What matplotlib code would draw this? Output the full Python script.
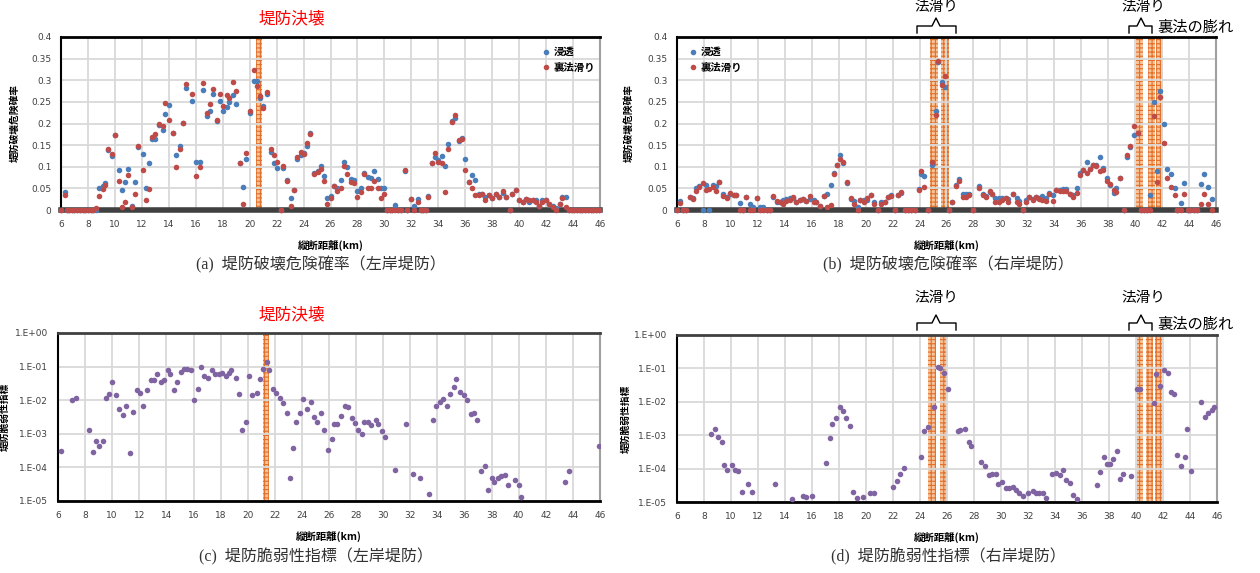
import numpy as np
import matplotlib
matplotlib.use('Agg')
import matplotlib.pyplot as plt
from matplotlib.lines import Line2D

plt.rcParams['font.family'] = ['DejaVu Sans', 'Noto Sans CJK JP']
plt.rcParams['hatch.linewidth'] = 0.8

JP = ['Noto Sans CJK JP', 'DejaVu Sans']
CAP = ['Liberation Serif', 'Noto Sans CJK JP']

# ---- (a) left bank: failure probability ----
x_a = [6.0, 6.3, 6.45, 6.6, 6.8, 7.0, 7.2, 7.4, 7.6, 7.8, 8.0, 8.2, 8.4, 8.6, 8.8, 9.1, 9.3, 9.5, 9.75,
       10.0, 10.3, 10.55, 10.75, 11.0, 11.3, 11.5, 11.75, 12.05, 12.3, 12.5, 12.75, 13.0, 13.3, 13.55, 13.75,
       14.05, 14.3, 14.5, 14.8, 15.05, 15.3, 15.75, 16.05, 16.3, 16.55, 16.8, 17.05, 17.3, 17.55, 17.8,
       18.0, 18.3, 18.5, 18.75, 19.0, 19.25, 19.5, 19.75, 20.05, 20.3, 20.55, 20.8, 21.0, 21.3, 21.55, 21.8,
       22.05, 22.3, 22.5, 22.75, 23.05, 23.3, 23.55, 23.8, 24.0, 24.25, 24.5, 24.8, 25.05, 25.3, 25.5, 25.75,
       26.0, 26.25, 26.5, 26.8, 27.0, 27.25, 27.5, 27.75, 28.0, 28.25, 28.5, 28.75, 29.0, 29.25, 29.5, 29.75,
       30.0, 30.2, 30.4, 30.6, 30.8, 31.0, 31.2, 31.5, 31.7, 32.0, 32.2, 32.5, 32.7, 32.9, 33.1, 33.25, 33.5,
       33.75, 34.0, 34.25, 34.5, 34.75, 35.0, 35.25, 35.5, 35.75, 36.0, 36.25, 36.5, 36.75, 37.0, 37.25, 37.5,
       37.75, 38.0, 38.25, 38.5, 38.8, 39.0, 39.3, 39.5, 39.75, 40.0, 40.25, 40.5, 40.75, 41.0, 41.25, 41.5,
       41.7, 42.0, 42.2, 42.5, 42.7, 43.0, 43.2, 43.5, 43.7, 43.9, 44.1, 44.3, 44.5, 44.7, 44.9, 45.1, 45.3,
       45.5, 45.7, 45.9]
seep_a = [0, 0.042, 0, 0, 0, 0, 0, 0, 0, 0, 0, 0, 0, 0, 0.05, 0.056, 0.062, 0.138, 0.125,
          0.173, 0.092, 0.046, 0.065, 0.095, 0.01, 0.065, 0.146, 0.129, 0.05, 0.108, 0.165, 0.165, 0.196, 0.186, 0.222,
          0.242, 0.177, 0.127, 0.148, 0.202, 0.283, 0.252, 0.112, 0.112, 0.278, 0.217, 0.228, 0.268, 0.206, 0.252,
          0.228, 0.238, 0.249, 0.265, 0.244, 0.109, 0.054, 0.117, 0.225, 0.298, 0.298, 0.258, 0.24, 0.269, 0.135, 0.108,
          0.096, 0, 0.098, 0.069, 0.028, 0.046, 0.119, 0.128, 0.131, 0.148, 0.177, 0.085, 0.091, 0.102, 0.079, 0.027,
          0.033, 0.056, 0.05, 0.069, 0.112, 0.1, 0.072, 0.069, 0.045, 0.052, 0.085, 0.077, 0.073, 0.091, 0.072, 0.052,
          0.052, 0, 0, 0, 0.012, 0, 0, 0.09, 0, 0.025, 0.01, 0.025, 0, 0, 0, 0.032, 0.108,
          0.123, 0.115, 0.125, 0.102, 0.152, 0.205, 0.212, 0.16, 0.167, 0.117, 0.065, 0.081, 0.069, 0.038, 0.038, 0.029,
          0.035, 0.027, 0.038, 0.031, 0.04, 0.031, 0, 0.038, 0.046, 0.022, 0.019, 0.025, 0.018, 0.023, 0.022, 0.009,
          0.023, 0.023, 0.014, 0.01, 0.004, 0.014, 0.031, 0.029, 0, 0, 0, 0, 0, 0, 0, 0, 0,
          0, 0, 0]
slide_a = [0, 0.035, 0, 0, 0, 0, 0, 0, 0, 0, 0, 0, 0, 0.004, 0.032, 0.048, 0.057, 0.14, 0.13,
           0.173, 0.067, 0.008, 0.018, 0.081, 0.006, 0.038, 0.148, 0.092, 0.023, 0.048, 0.169, 0.175, 0.198, 0.194, 0.248,
           0.209, 0.177, 0.1, 0.141, 0.202, 0.292, 0.269, 0.078, 0.1, 0.294, 0.225, 0.246, 0.279, 0.209, 0.268,
           0.241, 0.267, 0.26, 0.297, 0.275, 0.109, 0.015, 0.131, 0.228, 0.323, 0.287, 0.264, 0.236, 0.273, 0.14, 0.127,
           0.11, 0, 0.102, 0.067, 0.01, 0.046, 0.123, 0.135, 0.129, 0.154, 0.175, 0.083, 0.088, 0.094, 0.067, 0.014,
           0.028, 0.055, 0.045, 0.05, 0.102, 0.083, 0.064, 0.063, 0.029, 0.042, 0.083, 0.05, 0.052, 0.067, 0.052, 0.027,
           0.037, 0, 0, 0, 0, 0, 0, 0.092, 0, 0.025, 0, 0.019, 0, 0, 0, 0.029, 0.108,
           0.131, 0.112, 0.109, 0.041, 0.142, 0.203, 0.219, 0.162, 0.165, 0.092, 0.065, 0.052, 0.035, 0.035, 0.037, 0.023,
           0.035, 0.027, 0.037, 0.031, 0.044, 0.031, 0, 0.038, 0.046, 0.022, 0.019, 0.025, 0.023, 0.023, 0.019, 0.009,
           0.019, 0.023, 0.014, 0.008, 0, 0.014, 0.027, 0.006, 0, 0, 0, 0, 0, 0, 0, 0, 0,
           0, 0, 0]

# ---- (b) right bank: failure probability ----
x_b = [6.0, 6.2, 6.45, 6.7, 6.95, 7.2, 7.4, 7.65, 7.9, 8.15, 8.4, 8.65, 8.9, 9.15, 9.45, 9.7, 9.95, 10.2, 10.4,
       10.65, 10.9, 11.15, 11.4, 11.65, 11.9, 12.15, 12.4, 12.65, 12.9, 13.15, 13.4, 13.65, 13.9, 14.1, 14.4, 14.6,
       14.85, 15.1, 15.35, 15.6, 15.9, 16.15, 16.35, 16.6, 16.9, 17.15, 17.4, 17.65, 17.9, 18.1, 18.35, 18.65, 18.9,
       19.15, 19.4, 19.6, 19.9, 20.1, 20.4, 20.65, 20.9, 21.15, 21.4, 21.65, 21.9, 22.15, 22.4, 22.65, 22.9, 23.15,
       23.4, 23.65, 23.95, 24.1, 24.35, 24.6, 24.9, 25.2, 25.4, 25.65, 25.9, 26.15, 26.4, 26.7, 26.9, 27.2, 27.45,
       27.7, 27.95, 28.4, 28.7, 28.9, 29.2, 29.4, 29.6, 29.9, 30.1, 30.4, 30.6, 30.9, 31.2, 31.4, 31.65, 31.9,
       32.15, 32.4, 32.65, 32.9, 33.1, 33.4, 33.6, 33.9, 34.1, 34.4, 34.65, 34.9, 35.15, 35.4, 35.65, 35.9, 36.15,
       36.4, 36.65, 36.9, 37.1, 37.4, 37.65, 37.9, 38.15, 38.4, 38.6, 38.9, 39.2, 39.4, 39.6, 39.9, 40.2, 40.45,
       40.65, 40.85, 41.1, 41.4, 41.65, 41.85, 42.15, 42.4, 42.65, 42.95, 43.1, 43.4, 43.6, 43.9, 44.1, 44.35,
       44.6, 44.9, 45.1, 45.4, 45.7]
seep_b = [0, 0.021, 0, 0, 0.031, 0.027, 0.052, 0.056, 0, 0.058, 0, 0.058, 0.056, 0.065, 0.038, 0.031, 0.038, 0.035, 0.035,
          0.017, 0, 0.031, 0.014, 0.008, 0.028, 0.008, 0.006, 0, 0, 0.031, 0.018, 0.018, 0.023, 0.025, 0.028, 0.028,
          0.019, 0.023, 0.025, 0.021, 0.025, 0.023, 0.019, 0.01, 0.032, 0.036, 0.058, 0.085, 0.105, 0.127, 0.108, 0.062, 0.025,
          0.021, 0.008, 0.023, 0.023, 0.022, 0.035, 0.019, 0, 0.018, 0.019, 0.029, 0.035, 0, 0.035, 0.04, 0, 0,
          0, 0, 0.048, 0.083, 0.078, 0, 0.105, 0.228, 0.342, 0.296, 0.285, 0, 0.019, 0.058, 0.072, 0.037, 0.038,
          0.038, 0, 0.055, 0.036, 0.033, 0.042, 0.036, 0.028, 0.028, 0.028, 0.028, 0.025, 0.038, 0.028, 0.021, 0, 0.023,
          0.031, 0.025, 0.031, 0.027, 0.032, 0.028, 0.04, 0.035, 0.046, 0.046, 0.048, 0.048, 0.037, 0.035, 0.052, 0.085, 0.092,
          0.112, 0.094, 0.105, 0.104, 0.122, 0.098, 0.075, 0.058, 0.04, 0.052, 0.075, 0, 0.122, 0.145, 0.173, 0.179, 0,
          0, 0, 0.035, 0.25, 0.091, 0.275, 0.2, 0.095, 0.083, 0.052, 0, 0.017, 0.063, 0, 0, 0,
          0, 0.059, 0.083, 0.054, 0.025]
slide_b = [0, 0.017, 0, 0, 0.031, 0.025, 0.044, 0.054, 0.062, 0.046, 0.048, 0.054, 0.044, 0.065, 0.032, 0.027, 0.04, 0.035, 0.035,
           0, 0, 0.031, 0, 0, 0.028, 0, 0, 0, 0, 0.032, 0.021, 0.018, 0.015, 0.021, 0.023, 0.029,
           0.019, 0.023, 0.025, 0.021, 0.032, 0.019, 0.019, 0.01, 0.032, 0.006, 0.012, 0.083, 0.105, 0.117, 0.112, 0.065, 0.027,
           0.015, 0, 0.023, 0.019, 0.027, 0.035, 0.015, 0, 0.014, 0.019, 0.029, 0.032, 0, 0.035, 0.042, 0, 0,
           0, 0, 0.046, 0.09, 0.054, 0, 0.112, 0.219, 0.344, 0.288, 0.309, 0, 0.019, 0.056, 0.066, 0.031, 0.031,
           0.035, 0, 0.05, 0.034, 0.029, 0.044, 0.038, 0.018, 0.019, 0.023, 0.027, 0.019, 0.037, 0.019, 0.015, 0, 0.019,
           0.031, 0.023, 0.031, 0.025, 0.023, 0.021, 0.038, 0.021, 0.046, 0.044, 0.045, 0.044, 0.037, 0.031, 0.04, 0.081, 0.092,
           0.085, 0.094, 0.105, 0.102, 0.091, 0.092, 0.067, 0.059, 0.046, 0.042, 0.073, 0, 0.127, 0.148, 0.194, 0.178, 0,
           0, 0, 0, 0.217, 0.065, 0.262, 0.154, 0.075, 0.054, 0.035, 0, 0, 0.036, 0, 0, 0,
           0, 0.015, 0.038, 0.013, 0]

# ---- (c) left bank: vulnerability index ----
x_c = [6.25, 7.0, 7.3, 8.3, 8.55, 8.8, 9.05, 9.35, 9.55, 9.8, 10.0, 10.3, 10.5, 10.8, 11.05, 11.3, 11.55, 11.8,
       12.05, 12.3, 12.6, 12.85, 13.1, 13.3, 13.6, 13.8, 14.1, 14.3, 14.55, 14.8, 15.05, 15.3, 15.55, 15.8, 16.05,
       16.3, 16.55, 16.8, 17.1, 17.35, 17.6, 17.85, 18.1, 18.4, 18.6, 18.8, 19.1, 19.35, 19.6, 19.85, 20.1, 20.35,
       20.65, 20.9, 21.15, 21.4, 21.6, 21.9, 22.1, 22.4, 22.6, 22.9, 23.1, 23.35, 23.6, 23.85, 24.1, 24.4, 24.65,
       24.9, 25.1, 25.4, 25.65, 25.9, 26.2, 26.4, 26.6, 26.9, 27.2, 27.4, 27.7, 27.9, 28.15, 28.4, 28.6, 28.9,
       29.1, 29.45, 29.65, 29.9, 30.15, 30.9, 31.7, 32.2, 32.7, 33.4, 33.7, 33.9, 34.2, 34.45, 34.7, 34.9, 35.2,
       35.4, 35.7, 35.95, 36.2, 36.5, 36.7, 36.95, 37.2, 37.5, 37.7, 38.0, 38.2, 38.5, 38.7, 39.0, 39.2, 39.75,
       40.0, 40.2, 43.45, 43.7, 45.95]
vul_c = [3.1e-4, 1.0e-2, 1.2e-2, 1.3e-3, 2.8e-4, 6.2e-4, 4.4e-4, 6.2e-4, 1.15e-2, 1.55e-2, 3.6e-2, 1.4e-2, 5.4e-3, 3.6e-3,
         6.5e-3, 2.6e-4, 4.4e-3, 1.95e-2, 1.6e-2, 6.5e-3, 1.95e-2, 3.9e-2, 3.9e-2, 6.0e-2, 3.4e-2, 3.9e-2, 8.1e-2, 6.0e-2,
         1.95e-2, 3.6e-2, 6.8e-2, 8.5e-2, 8.7e-2, 7.8e-2, 1.0e-2, 2.1e-2, 9.8e-2, 5.1e-2, 4.6e-2, 8.1e-2, 6.0e-2, 6.2e-2,
         6.5e-2, 5.1e-2, 6.5e-2, 7.8e-2, 4.6e-2, 1.5e-2, 1.3e-3, 2.3e-3, 5.1e-2, 1.4e-2, 1.6e-2, 4.4e-2, 8.5e-2, 1.35e-1,
         7.8e-2, 2.1e-2, 1.6e-2, 1.2e-2, 8.1e-3, 4.1e-3, 4.8e-5, 3.7e-4, 2.2e-3, 4.1e-3, 1.07e-2, 5.5e-3, 9.1e-3, 3.2e-3,
         2.3e-3, 4.1e-3, 1.3e-3, 3.3e-4, 6.9e-4, 2.0e-3, 1.9e-3, 3.5e-3, 6.8e-3, 6.2e-3, 3.0e-3, 2.1e-3, 1.3e-3, 9.8e-4,
         2.2e-3, 2.2e-3, 1.8e-3, 2.6e-3, 1.9e-3, 1.2e-3, 7.9e-4, 8.3e-5, 2.0e-3, 6.5e-5, 5.0e-5, 1.6e-5, 2.5e-3, 6.8e-3,
         8.7e-3, 1.1e-2, 6.5e-3, 1.55e-2, 2.4e-2, 4.3e-2, 1.7e-2, 1.45e-2, 9.8e-3, 3.9e-3, 4.1e-3, 2.5e-3, 7.8e-5, 1.1e-4,
         2.1e-5, 4.8e-5, 3.8e-5, 4.8e-5, 5.4e-5, 5.8e-5, 2.9e-5, 4.3e-5, 3.0e-5, 1.35e-5, 3.6e-5, 7.8e-5, 4.4e-4]

# ---- (d) right bank: vulnerability index ----
x_d = [8.5, 8.8, 9.0, 9.3, 9.5, 9.7, 10.05, 10.3, 10.55, 10.8, 11.25, 11.55, 13.25, 14.5, 15.3, 15.55, 16.0, 17.05,
       17.3, 17.5, 17.8, 18.1, 18.3, 18.55, 18.8, 19.05, 19.3, 19.8, 20.3, 20.6, 22.0, 22.3, 22.55, 22.8, 24.05,
       24.3, 24.6, 25.05, 25.3, 25.5, 25.8, 26.05, 26.8, 27.0, 27.3, 27.6, 27.8, 28.55, 28.8, 29.1, 29.35, 29.6,
       29.8, 30.05, 30.37, 30.6, 30.86, 31.1, 31.35, 31.6, 31.98, 32.35, 32.6, 32.85, 33.1, 33.3, 33.8, 34.05, 34.4,
       34.6, 34.8, 35.1, 35.3, 35.6, 37.1, 37.35, 37.6, 37.85, 38.1, 38.3, 38.6, 38.8, 39.05, 39.6, 40.05, 40.3,
       41.3, 41.5, 41.8, 42.1, 42.35, 42.6, 42.85, 43.05, 43.3, 43.6, 43.8, 44.1, 44.8, 45.1, 45.3, 45.6, 45.8]
vul_d = [1.07e-3, 1.5e-3, 8.9e-4, 6.3e-4, 1.26e-4, 8.9e-5, 1.26e-4, 8.9e-5, 8.3e-5, 2.0e-5, 3.5e-5, 2.0e-5, 3.5e-5, 1.26e-5,
         1.5e-5, 1.4e-5, 1.5e-5, 1.5e-4, 8.5e-4, 2.1e-3, 3.3e-3, 7.1e-3, 5.2e-3, 3.3e-3, 1.9e-3, 2.0e-5, 1.3e-5, 1.4e-5,
         1.9e-5, 1.9e-5, 2.8e-5, 4.2e-5, 7.1e-5, 1.07e-4, 2.3e-4, 1.3e-3, 1.8e-3, 6.8e-3, 1.1e-1, 1.0e-1, 7.4e-2, 2.5e-2,
         1.3e-3, 1.45e-3, 1.55e-3, 6.2e-4, 4.9e-4, 1.55e-4, 1.2e-4, 6.5e-5, 6.8e-5, 6.8e-5, 3.4e-5, 4.0e-5, 2.7e-5, 2.7e-5,
         2.8e-5, 2.3e-5, 1.9e-5, 1.5e-5, 1.8e-5, 2.2e-5, 1.8e-5, 1.8e-5, 1.9e-5, 1.35e-5, 6.8e-5, 7.2e-5, 6.3e-5, 9.1e-5,
         4.5e-5, 3.8e-5, 1.6e-5, 1.26e-5, 3.3e-5, 7.8e-5, 2.3e-4, 1.35e-4, 1.35e-4, 1.95e-4, 3.4e-4, 4.8e-5, 6.8e-5, 6.0e-5,
         2.5e-2, 2.5e-2, 8.9e-3, 6.6e-2, 3.0e-2, 8.9e-2, 7.4e-2, 1.9e-2, 1.75e-2, 2.5e-4, 1.2e-4, 2.3e-4, 1.5e-3, 8.7e-5,
         9.8e-3, 3.5e-3, 4.7e-3, 5.6e-3, 6.9e-3]

# hatched bands (km)
bands_a = [(20.5, 20.95)]
bands_b = [(24.75, 25.35), (25.6, 26.15), (40.05, 40.6), (40.95, 41.45), (41.55, 42.05)]
bands_c = [(21.1, 21.55)]
bands_d = [(24.6, 25.2), (25.45, 26.0), (40.05, 40.5), (40.75, 41.25), (41.4, 41.9)]

xticks = np.arange(6, 47, 2)
prob_ticks = [0, 0.05, 0.1, 0.15, 0.2, 0.25, 0.3, 0.35, 0.4]
prob_labels = ['0', '0.05', '0.1', '0.15', '0.2', '0.25', '0.3', '0.35', '0.4']
log_ticks = [1e-5, 1e-4, 1e-3, 1e-2, 1e-1, 1]
log_labels = ['1.E-05', '1.E-04', '1.E-03', '1.E-02', '1.E-01', '1.E+00']

W, H = 1260, 573
fig = plt.figure(figsize=(W / 100, H / 100), dpi=100)


def rect(l, t, r, b):
    return [l / W, 1 - b / H, (r - l) / W, (b - t) / H]


def px(x, y):
    return x / W, 1 - y / H


def base_axes(r, bands, ylab, ylab_off, log=False):
    ax = fig.add_axes(rect(*r))
    for b0, b1 in bands:
        ax.axvspan(b0, b1, facecolor='#f6c39a', edgecolor='#e2702a', hatch='++++', lw=0, zorder=0.2)
    ax.set_xlim(6, 46)
    ax.set_xticks(xticks)
    ax.set_xticklabels([str(v) for v in xticks], fontsize=6.5, color='#404040')
    ax.grid(True, color='#d9d9d9', lw=1.3)
    ax.set_axisbelow(True)
    ax.tick_params(length=0, pad=7)
    ax.spines['top'].set_color('black')
    ax.spines['top'].set_linewidth(2)
    ax.spines['left'].set_color('black')
    ax.spines['left'].set_linewidth(1.5)
    ax.spines['right'].set_color('#a0a0a0')
    ax.spines['right'].set_linewidth(1.5)
    ax.set_xlabel('縦断距離(km)', fontsize=7.5, fontweight='bold', family=JP)
    w = r[2] - r[0]
    h = r[3] - r[1]
    ax.xaxis.set_label_coords(0.5, -30 / h)
    ax.set_ylabel(ylab, fontsize=7, fontweight='bold', family=JP)
    ax.yaxis.set_label_coords(-ylab_off / w, 0.5)
    if log:
        ax.set_yscale('log')
        ax.set_ylim(1e-5, 1)
        ax.set_yticks(log_ticks)
        ax.set_yticklabels(log_labels, fontsize=6.5, color='#404040')
        ax.yaxis.set_minor_locator(matplotlib.ticker.NullLocator())
        ax.spines['bottom'].set_color('black')
        ax.spines['bottom'].set_linewidth(2)
        ax.spines['top'].set_color('#404040')
    else:
        ax.set_ylim(0, 0.4)
        ax.set_yticks(prob_ticks)
        ax.set_yticklabels(prob_labels, fontsize=6.5, color='#404040')
        ax.spines['bottom'].set_color('#404040')
        ax.spines['bottom'].set_linewidth(4)
    return ax


# (a)
ax_a = base_axes((61, 37, 600, 210), bands_a, '堤防破壊危険確率', 41)
ax_a.plot(x_a, seep_a, 'o', color='#4a7ebb', ms=4.0, mec='none', label='浸透', clip_on=False, zorder=3)
ax_a.plot(x_a, slide_a, 'o', color='#be4b48', ms=4.0, mec='none', label='裏法滑り', clip_on=False, zorder=4)
ax_a.legend(loc='upper left', bbox_to_anchor=(0.885, 0.97), frameon=False, handlelength=0.6, handletextpad=0.4,
            prop={'family': JP, 'weight': 'bold', 'size': 7.5}, labelspacing=0.5, borderpad=0)

# (b)
ax_b = base_axes((677, 37, 1216, 210), bands_b, '堤防破壊危険確率', 43)
ax_b.plot(x_b, seep_b, 'o', color='#4a7ebb', ms=4.0, mec='none', label='浸透', clip_on=False, zorder=3)
ax_b.plot(x_b, slide_b, 'o', color='#be4b48', ms=4.0, mec='none', label='裏法滑り', clip_on=False, zorder=4)
ax_b.legend(loc='upper left', bbox_to_anchor=(0.015, 0.97), frameon=False, handlelength=0.6, handletextpad=0.4,
            prop={'family': JP, 'weight': 'bold', 'size': 7.5}, labelspacing=0.5, borderpad=0)

# (c)
ax_c = base_axes((58, 333, 600, 501), bands_c, '堤防脆弱性指標', 48, log=True)
ax_c.plot(x_c, vul_c, 'o', color='#8064a2', ms=4.0, mec='none', zorder=3)

# (d)
ax_d = base_axes((677, 335, 1217, 502), bands_d, '堤防脆弱性指標', 46, log=True)
ax_d.plot(x_d, vul_d, 'o', color='#8064a2', ms=4.0, mec='none', zorder=3)


def brace(x0, x1, xc, y):
    pts = [(x0, y + 7), (x0, y), (xc - 4, y), (xc, y - 8), (xc + 4, y), (x1, y), (x1, y + 7)]
    xs = [px(p[0], p[1])[0] for p in pts]
    ys = [px(p[0], p[1])[1] for p in pts]
    fig.add_artist(Line2D(xs, ys, color='black', lw=1.0, transform=fig.transFigure))


# red labels
for y in (19, 315):
    fig.text(*px(292, y), '堤防決壊', color='#ff0000', fontsize=12, family=JP, ha='center', va='center')

# annotations on the right bank panels
for dy, ty in ((0, 7), (297, 298)):
    fig.text(*px(936, ty), '法滑り', fontsize=10.5, family=JP, ha='center', va='center')
    fig.text(*px(1143, ty), '法滑り', fontsize=10.5, family=JP, ha='center', va='center')
    brace(917, 956, 936, 26 + dy)
    brace(1129, 1152, 1141, 26 + dy)
    fig.text(*px(1157, 27 + dy), '裏法の膨れ', fontsize=11, family=JP, ha='left', va='center')

# captions
fig.text(*px(321, 265), '(a)  堤防破壊危険確率（左岸堤防）', fontsize=11.5, family=CAP, color='#333333',
         ha='center', va='center')
fig.text(*px(948, 265), '(b)  堤防破壊危険確率（右岸堤防）', fontsize=11.5, family=CAP, color='#333333',
         ha='center', va='center')
fig.text(*px(316, 557), '(c)  堤防脆弱性指標（左岸堤防）', fontsize=11.5, family=CAP, color='#333333',
         ha='center', va='center')
fig.text(*px(948, 557), '(d)  堤防脆弱性指標（右岸堤防）', fontsize=11.5, family=CAP, color='#333333',
         ha='center', va='center')

fig.savefig('out.png', dpi=100)
